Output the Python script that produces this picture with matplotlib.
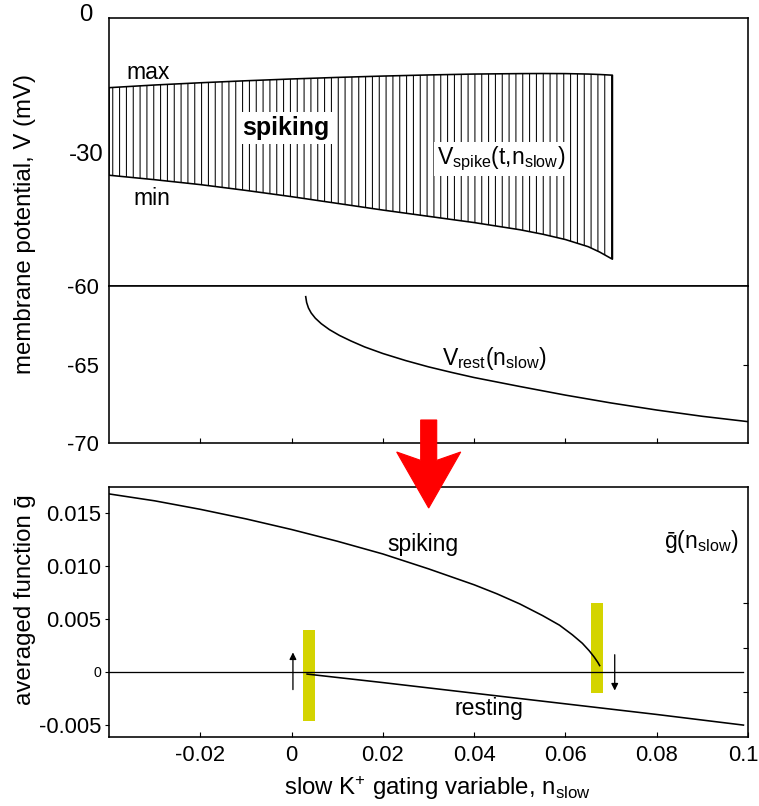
import numpy as np
import matplotlib
matplotlib.use("Agg")
import matplotlib.pyplot as plt
import matplotlib.transforms as mtransforms
from matplotlib.patches import FancyArrow

plt.rcParams['font.family'] = ['Liberation Sans', 'DejaVu Sans']
plt.rcParams['mathtext.fontset'] = 'custom'
plt.rcParams['mathtext.rm'] = 'Liberation Sans'
plt.rcParams['mathtext.it'] = 'Liberation Sans:italic'
plt.rcParams['mathtext.bf'] = 'Liberation Sans:bold'
plt.rcParams['hatch.linewidth'] = 0.9

# ---------------- data ----------------
# top panel: spiking band (max / min of V over a spike)
band_x = [-0.04, -0.03, -0.02, -0.01, 0.0, 0.01, 0.02, 0.03, 0.04, 0.05, 0.055, 0.06,
          0.065, 0.0675, 0.0703]
band_max = [-15.6, -15.0, -14.5, -14.05, -13.65, -13.3, -13.0, -12.75, -12.55, -12.45,
            -12.43, -12.45, -12.55, -12.65, -12.8]
band_min = [-35.2, -36.2, -37.3, -38.6, -40.0, -41.5, -43.0, -44.4, -45.8, -47.4, -48.4,
            -49.6, -51.2, -52.4, -54.0]

# middle panel: resting potential
rest_x = [0.0031, 0.0033, 0.0037, 0.0043, 0.0052, 0.0065, 0.0083, 0.0105, 0.013, 0.016,
          0.02, 0.025, 0.03, 0.035, 0.04, 0.05, 0.06, 0.07, 0.08, 0.09, 0.1]
rest_v = [-60.68, -61.05, -61.40, -61.72, -62.05, -62.40, -62.78, -63.15, -63.5, -63.88,
          -64.3, -64.75, -65.15, -65.5, -65.83, -66.4, -66.95, -67.45, -67.9, -68.3, -68.64]

# bottom panel: averaged function
spk_x = [-0.04, -0.03, -0.02, -0.01, 0.0, 0.01, 0.02, 0.03, 0.04, 0.045, 0.05, 0.055,
         0.0587, 0.0615, 0.0637, 0.0652, 0.0663, 0.0671, 0.0675]
spk_g = [0.01675, 0.0161, 0.0153, 0.0144, 0.0134, 0.0123, 0.0111, 0.0097, 0.0082, 0.00735,
         0.0064, 0.0053, 0.0044, 0.0035, 0.0027, 0.0020, 0.0014, 0.0009, 0.0006]
rst_x = [0.0034, 0.02, 0.04, 0.06, 0.08, 0.099]
rst_g = [-0.0002, -0.0010, -0.0020, -0.0030, -0.0040, -0.0050]
zero_x = [-0.04, 0.099]

bar_x = [0.0039, 0.067]
bar_w = 0.0026
bar_bottom = [-0.00457, -0.0020]
bar_top = [0.00397, 0.0065]

arrow_x = [0.0003, 0.0708]
arrow_from = [-0.00166, 0.00162]
arrow_to = [0.00184, -0.00175]

top_yticks = [0, -30]
mid_yticks = [-60, -65, -70]
bot_yticks = [0.015, 0.010, 0.005, 0, -0.005]
bot_yticklabels = ['0.015', '0.010', '0.005', '0', '-0.005']
xticks = [-0.02, 0, 0.02, 0.04, 0.06, 0.08, 0.1]
xticklabels = ['-0.02', '0', '0.02', '0.04', '0.06', '0.08', '0.1']
bot_right_ticks = [0.0065, 0.0023, -0.0019]
mid_right_ticks = [-65]

# ---------------- figure ----------------
DPI = 82
W, H = 759, 806
fig = plt.figure(figsize=(W / DPI, H / DPI), dpi=DPI)


def pt(px):
    return px * 72.0 / DPI


def rect(l, t, r, b):
    return [l / W, 1 - b / H, (r - l) / W, (b - t) / H]


LW = pt(1.6)
FS = pt(23)
TFS = pt(22)

ax_top = fig.add_axes(rect(109, 18, 748, 286))
ax_mid = fig.add_axes(rect(109, 286, 748, 443))
ax_bot = fig.add_axes(rect(109, 487, 748, 737))

for ax in (ax_top, ax_mid, ax_bot):
    ax.set_xlim(-0.04, 0.1)
    for s in ax.spines.values():
        s.set_linewidth(LW)

# top panel
ax_top.set_ylim(-60, 0)
ax_top.fill_between(band_x, band_min, band_max, facecolor='none', edgecolor='black',
                    hatch='||', linewidth=LW)
ax_top.set_xticks([])
ax_top.set_yticks(top_yticks)
ax_top.set_yticklabels([str(v) for v in top_yticks], fontsize=pt(24), ha='center')
ax_top.tick_params(axis='y', length=0, pad=pt(23))
lab0 = ax_top.get_yticklabels()[0]
lab0.set_transform(lab0.get_transform() +
                   mtransforms.ScaledTranslation(0, 6 / DPI, fig.dpi_scale_trans))
ax_top.text(-0.0315, -12.3, 'max', fontsize=FS, ha='center', va='center')
ax_top.text(-0.0306, -40.3, 'min', fontsize=FS, ha='center', va='center')
ax_top.text(-0.0012, -24.7, 'spiking', fontsize=pt(25), fontweight='bold', ha='center',
            va='center', bbox=dict(facecolor='white', edgecolor='none', pad=pt(4)))
ax_top.text(0.046, -31.6, r'V$_{\mathrm{spike}}$(t,n$_{\mathrm{slow}}$)', fontsize=FS,
            ha='center', va='center',
            bbox=dict(facecolor='white', edgecolor='none', pad=pt(3)))

# middle panel
ax_mid.set_ylim(-70, -60)
ax_mid.plot(rest_x, rest_v, color='black', lw=LW)
ax_mid.set_yticks(mid_yticks)
ax_mid.set_yticklabels([str(v) for v in mid_yticks], fontsize=TFS, ha='center')
ax_mid.tick_params(axis='y', length=0, pad=pt(26))
ax_mid.set_xticks(xticks[:-1])
ax_mid.tick_params(axis='x', direction='in', length=pt(5), width=LW * 0.7,
                   labelbottom=False)
mr = ax_mid.twinx()
mr.set_ylim(-70, -60)
mr.set_yticks(mid_right_ticks)
mr.tick_params(axis='y', direction='in', length=pt(5), width=LW * 0.7, labelright=False)
for s in mr.spines.values():
    s.set_visible(False)
ax_mid.text(0.0444, -64.6, r'V$_{\mathrm{rest}}$(n$_{\mathrm{slow}}$)', fontsize=FS,
            ha='center', va='center')

# bottom panel
ax_bot.set_ylim(-0.00612, 0.0174)
ax_bot.bar(bar_x, np.array(bar_top) - np.array(bar_bottom), bottom=bar_bottom,
           width=bar_w, color='#d4d400', zorder=1)
ax_bot.plot(zero_x, [0, 0], color='black', lw=pt(1.3), zorder=2)
ax_bot.plot(spk_x, spk_g, color='black', lw=LW, zorder=3)
ax_bot.plot(rst_x, rst_g, color='black', lw=LW, zorder=3)
for xa, y0, y1 in zip(arrow_x, arrow_from, arrow_to):
    ax_bot.annotate('', xy=(xa, y1), xytext=(xa, y0),
                    arrowprops=dict(arrowstyle='-|>', color='black', lw=pt(1.3),
                                    mutation_scale=pt(14), shrinkA=0, shrinkB=0))
ax_bot.set_yticks(bot_yticks)
ax_bot.set_yticklabels(bot_yticklabels, fontsize=TFS)
ax_bot.get_yticklabels()[3].set_fontsize(pt(14))
ax_bot.tick_params(axis='y', direction='out', length=pt(4), width=LW * 0.7, pad=pt(4))
ax_bot.set_xticks(xticks)
ax_bot.set_xticklabels(xticklabels, fontsize=TFS)
ax_bot.tick_params(axis='x', direction='in', length=pt(5), width=LW * 0.7, pad=pt(8))
last = ax_bot.get_xticklabels()[-1]
last.set_horizontalalignment('right')
last.set_transform(last.get_transform() +
                   mtransforms.ScaledTranslation(11 / DPI, 0, fig.dpi_scale_trans))
br = ax_bot.twinx()
br.set_ylim(-0.00612, 0.0174)
br.set_yticks(bot_right_ticks)
br.tick_params(axis='y', direction='in', length=pt(5), width=LW * 0.7, labelright=False)
for s in br.spines.values():
    s.set_visible(False)
ax_bot.text(0.0287, 0.0120, 'spiking', fontsize=FS, ha='center', va='center')
ax_bot.text(0.0433, -0.00347, 'resting', fontsize=FS, ha='center', va='center')
ax_bot.text(0.0897, 0.0123, 'ḡ(n$_{\\mathrm{slow}}$)', fontsize=FS, ha='center', va='center')
ax_bot.set_xlabel(r'slow K$^{+}$ gating variable, n$_{\mathrm{slow}}$', fontsize=pt(24))
ax_bot.xaxis.set_label_coords((437 - 109) / 639, (737 - 788) / 250)
ax_bot.xaxis.label.set_va('center')

# y labels
fig.text(25 / W, 1 - 224 / H, 'membrane potential, V (mV)', rotation=90, fontsize=pt(24),
         ha='center', va='center')
fig.text(25 / W, 1 - 600 / H, 'averaged function ḡ', rotation=90, fontsize=pt(24),
         ha='center', va='center')

# big red arrow between panels (pixel geometry converted to inches)
xc = 428.7 / DPI
y_start = (H - 420) / DPI
arr = FancyArrow(xc, y_start, 0, -88 / DPI, width=16 / DPI, head_width=64 / DPI,
                 head_length=56 / DPI, length_includes_head=True, overhang=0.15,
                 color='#ff0000', transform=fig.dpi_scale_trans)
fig.add_artist(arr)

fig.savefig('out.png', dpi=DPI)
